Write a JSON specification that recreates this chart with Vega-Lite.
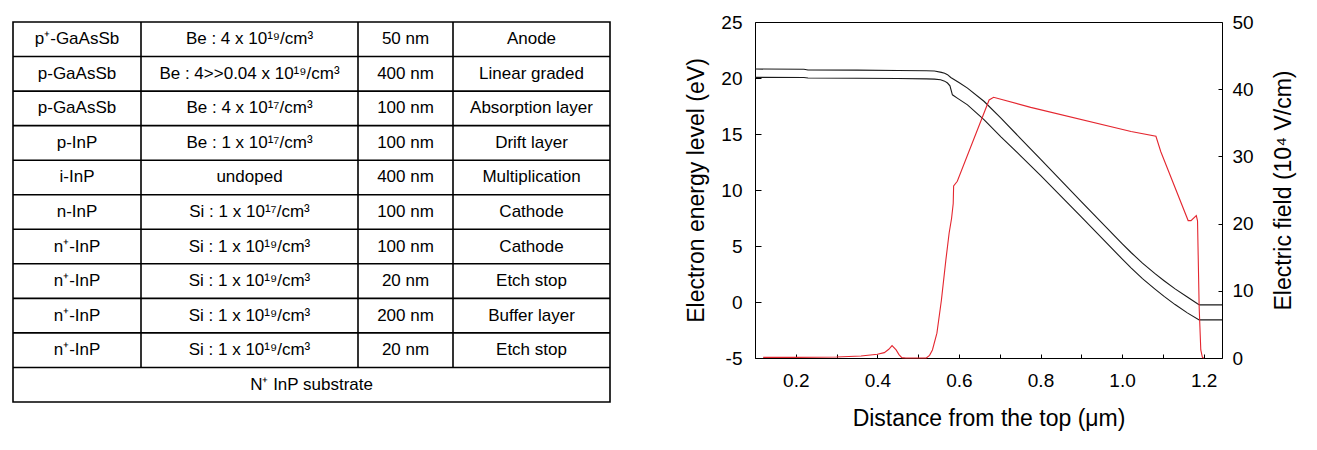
{
  "$schema": "https://vega.github.io/schema/vega-lite/v6.json",
  "background": "white",
  "padding": {"left": 11, "top": 12, "right": 5, "bottom": 5},
  "autosize": {"type": "pad"},
  "bounds": "flush",
  "spacing": 145,
  "config": {
    "font": "Liberation Sans",
    "axis": {
      "domain": false,
      "grid": false,
      "tickColor": "black",
      "tickWidth": 1,
      "labelColor": "black",
      "labelFont": "Liberation Sans",
      "labelFontSize": 19,
      "titleFont": "Liberation Sans",
      "titleFontSize": 23,
      "titleFontWeight": "normal",
      "titleColor": "black",
      "labelFlush": false,
      "labelOverlap": false
    }
  },
  "datasets": {
    "cells": [
      {"row": 0, "col": 0, "t": "p⁺-GaAsSb"},
      {"row": 0, "col": 1, "t": "Be : 4 x 10¹⁹/cm³"},
      {"row": 0, "col": 2, "t": "50 nm"},
      {"row": 0, "col": 3, "t": "Anode"},
      {"row": 1, "col": 0, "t": "p-GaAsSb"},
      {"row": 1, "col": 1, "t": "Be : 4>>0.04 x 10¹⁹/cm³"},
      {"row": 1, "col": 2, "t": "400 nm"},
      {"row": 1, "col": 3, "t": "Linear graded"},
      {"row": 2, "col": 0, "t": "p-GaAsSb"},
      {"row": 2, "col": 1, "t": "Be : 4 x 10¹⁷/cm³"},
      {"row": 2, "col": 2, "t": "100 nm"},
      {"row": 2, "col": 3, "t": "Absorption layer"},
      {"row": 3, "col": 0, "t": "p-InP"},
      {"row": 3, "col": 1, "t": "Be : 1 x 10¹⁷/cm³"},
      {"row": 3, "col": 2, "t": "100 nm"},
      {"row": 3, "col": 3, "t": "Drift layer"},
      {"row": 4, "col": 0, "t": "i-InP"},
      {"row": 4, "col": 1, "t": "undoped"},
      {"row": 4, "col": 2, "t": "400 nm"},
      {"row": 4, "col": 3, "t": "Multiplication"},
      {"row": 5, "col": 0, "t": "n-InP"},
      {"row": 5, "col": 1, "t": "Si : 1 x 10¹⁷/cm³"},
      {"row": 5, "col": 2, "t": "100 nm"},
      {"row": 5, "col": 3, "t": "Cathode"},
      {"row": 6, "col": 0, "t": "n⁺-InP"},
      {"row": 6, "col": 1, "t": "Si : 1 x 10¹⁹/cm³"},
      {"row": 6, "col": 2, "t": "100 nm"},
      {"row": 6, "col": 3, "t": "Cathode"},
      {"row": 7, "col": 0, "t": "n⁺-InP"},
      {"row": 7, "col": 1, "t": "Si : 1 x 10¹⁹/cm³"},
      {"row": 7, "col": 2, "t": "20 nm"},
      {"row": 7, "col": 3, "t": "Etch stop"},
      {"row": 8, "col": 0, "t": "n⁺-InP"},
      {"row": 8, "col": 1, "t": "Si : 1 x 10¹⁹/cm³"},
      {"row": 8, "col": 2, "t": "200 nm"},
      {"row": 8, "col": 3, "t": "Buffer layer"},
      {"row": 9, "col": 0, "t": "n⁺-InP"},
      {"row": 9, "col": 1, "t": "Si : 1 x 10¹⁹/cm³"},
      {"row": 9, "col": 2, "t": "20 nm"},
      {"row": 9, "col": 3, "t": "Etch stop"},
      {"row": 10, "col": 1.286, "t": "N⁺ InP substrate"}
    ],
    "hlines": [
      {"edge": 0.5}, {"edge": 1.5}, {"edge": 2.5}, {"edge": 3.5}, {"edge": 4.5},
      {"edge": 5.5}, {"edge": 6.5}, {"edge": 7.5}, {"edge": 8.5}, {"edge": 9.5}
    ],
    "vlines": [
      {"edge": 0.5}, {"edge": 1.5}, {"edge": 2.5}
    ],
    "bands": [
      {"band": "c", "x": 0.1, "E": 20.8},
      {"band": "c", "x": 0.22, "E": 20.78},
      {"band": "c", "x": 0.23, "E": 20.72},
      {"band": "c", "x": 0.35, "E": 20.7},
      {"band": "c", "x": 0.45, "E": 20.67},
      {"band": "c", "x": 0.52, "E": 20.65},
      {"band": "c", "x": 0.54, "E": 20.62},
      {"band": "c", "x": 0.557, "E": 20.5},
      {"band": "c", "x": 0.565, "E": 20.42},
      {"band": "c", "x": 0.572, "E": 20.3},
      {"band": "c", "x": 0.58, "E": 20.05},
      {"band": "c", "x": 0.6, "E": 19.6},
      {"band": "c", "x": 0.621, "E": 19.1},
      {"band": "c", "x": 0.662, "E": 17.9},
      {"band": "c", "x": 0.703, "E": 16.42},
      {"band": "c", "x": 0.75, "E": 14.64},
      {"band": "c", "x": 0.8, "E": 12.75},
      {"band": "c", "x": 0.85, "E": 10.86},
      {"band": "c", "x": 0.9, "E": 8.97},
      {"band": "c", "x": 0.95, "E": 7.08},
      {"band": "c", "x": 1.0, "E": 5.22},
      {"band": "c", "x": 1.022, "E": 4.42},
      {"band": "c", "x": 1.05, "E": 3.47},
      {"band": "c", "x": 1.08, "E": 2.55},
      {"band": "c", "x": 1.103, "E": 1.9},
      {"band": "c", "x": 1.13, "E": 1.17},
      {"band": "c", "x": 1.16, "E": 0.45},
      {"band": "c", "x": 1.185, "E": -0.15},
      {"band": "c", "x": 1.19, "E": -0.26},
      {"band": "c", "x": 1.245, "E": -0.26},
      {"band": "v", "x": 0.1, "E": 20.06},
      {"band": "v", "x": 0.22, "E": 20.04},
      {"band": "v", "x": 0.23, "E": 20.0},
      {"band": "v", "x": 0.35, "E": 19.98},
      {"band": "v", "x": 0.45, "E": 19.95},
      {"band": "v", "x": 0.52, "E": 19.92},
      {"band": "v", "x": 0.54, "E": 19.9},
      {"band": "v", "x": 0.555, "E": 19.84},
      {"band": "v", "x": 0.565, "E": 19.72},
      {"band": "v", "x": 0.572, "E": 19.55},
      {"band": "v", "x": 0.578, "E": 19.3},
      {"band": "v", "x": 0.584, "E": 18.5},
      {"band": "v", "x": 0.596, "E": 18.2},
      {"band": "v", "x": 0.621, "E": 17.6},
      {"band": "v", "x": 0.662, "E": 16.27},
      {"band": "v", "x": 0.703, "E": 14.75},
      {"band": "v", "x": 0.75, "E": 13.1},
      {"band": "v", "x": 0.8, "E": 11.3},
      {"band": "v", "x": 0.85, "E": 9.45},
      {"band": "v", "x": 0.9, "E": 7.6},
      {"band": "v", "x": 0.95, "E": 5.72},
      {"band": "v", "x": 1.0, "E": 3.85},
      {"band": "v", "x": 1.022, "E": 3.05},
      {"band": "v", "x": 1.05, "E": 2.08},
      {"band": "v", "x": 1.08, "E": 1.17},
      {"band": "v", "x": 1.103, "E": 0.5},
      {"band": "v", "x": 1.13, "E": -0.23},
      {"band": "v", "x": 1.16, "E": -0.97},
      {"band": "v", "x": 1.189, "E": -1.6},
      {"band": "v", "x": 1.245, "E": -1.6}
    ],
    "field": [
      {"x": 0.12, "F": 0.1},
      {"x": 0.2, "F": 0.1},
      {"x": 0.3, "F": 0.15},
      {"x": 0.36, "F": 0.3},
      {"x": 0.4, "F": 0.55},
      {"x": 0.417, "F": 0.8},
      {"x": 0.428, "F": 1.3},
      {"x": 0.436, "F": 1.85},
      {"x": 0.446, "F": 1.2},
      {"x": 0.453, "F": 0.5},
      {"x": 0.46, "F": 0.05},
      {"x": 0.47, "F": 0},
      {"x": 0.52, "F": 0},
      {"x": 0.528, "F": 0.4},
      {"x": 0.535, "F": 1.2},
      {"x": 0.546, "F": 3.7},
      {"x": 0.557, "F": 8.6},
      {"x": 0.568, "F": 14.6},
      {"x": 0.576, "F": 18.6},
      {"x": 0.582, "F": 20.8},
      {"x": 0.586, "F": 23.0},
      {"x": 0.587, "F": 25.6},
      {"x": 0.596, "F": 26.3},
      {"x": 0.674, "F": 38.4},
      {"x": 0.685, "F": 38.8},
      {"x": 0.776, "F": 37.3},
      {"x": 1.022, "F": 33.7},
      {"x": 1.083, "F": 33.0},
      {"x": 1.095, "F": 30.7},
      {"x": 1.162, "F": 20.45},
      {"x": 1.169, "F": 20.45},
      {"x": 1.182, "F": 21.2},
      {"x": 1.185, "F": 20.4},
      {"x": 1.189, "F": 7.6},
      {"x": 1.193, "F": 1.2},
      {"x": 1.197, "F": 0.1},
      {"x": 1.2, "F": 0}
    ]
  },
  "hconcat": [
    {
      "width": 597,
      "height": 380,
      "view": {"stroke": "black", "strokeWidth": 1.6},
      "encoding": {
        "x": {"type": "quantitative", "scale": {"domain": [-0.5, 0.5, 1.5, 2.5, 3.5], "range": [0, 128, 345, 440, 597], "nice": false, "zero": false}, "axis": null},
        "y": {"type": "quantitative", "scale": {"domain": [-0.5, 10.5], "reverse": true, "nice": false, "zero": false}, "axis": null}
      },
      "layer": [
        {
          "data": {"name": "hlines"},
          "mark": {"type": "rule", "color": "black", "strokeWidth": 1.6},
          "encoding": {"y": {"field": "edge", "type": "quantitative"}}
        },
        {
          "data": {"name": "vlines"},
          "mark": {"type": "rule", "color": "black", "strokeWidth": 1.6},
          "encoding": {
            "x": {"field": "edge", "type": "quantitative"},
            "y": {"datum": -0.5, "type": "quantitative"},
            "y2": {"datum": 9.5}
          }
        },
        {
          "data": {"name": "cells"},
          "mark": {"type": "text", "font": "Liberation Sans", "fontSize": 17, "color": "black", "align": "center", "baseline": "middle"},
          "encoding": {
            "x": {"field": "col", "type": "quantitative"},
            "y": {"field": "row", "type": "quantitative"},
            "text": {"field": "t", "type": "nominal"}
          }
        }
      ]
    },
    {
      "width": 467,
      "height": 336,
      "view": {"stroke": "black", "strokeWidth": 1},
      "layer": [
        {
          "data": {"name": "bands"},
          "mark": {"type": "line", "color": "#1a1a1a", "strokeWidth": 1.1},
          "encoding": {
            "x": {
              "field": "x", "type": "quantitative",
              "scale": {"domain": [0.1, 1.245], "nice": false, "zero": false},
              "axis": {
                "title": "Distance from the top (μm)",
                "values": [0.1, 0.2, 0.3, 0.4, 0.5, 0.6, 0.7, 0.8, 0.9, 1.0, 1.1, 1.2],
                "labelExpr": "round(datum.value * 10) % 2 == 0 ? format(datum.value, '.1f') : ''",
                "tickSize": -4,
                "labelPadding": 17,
                "titlePadding": 17
              }
            },
            "y": {
              "field": "E", "type": "quantitative",
              "scale": {"domain": [-5, 25], "nice": false, "zero": false},
              "axis": {
                "orient": "left",
                "title": "Electron energy level (eV)",
                "values": [-5, 0, 5, 10, 15, 20, 25],
                "labelExpr": "datum.value < 0 ? '-' + abs(datum.value) : '' + datum.value",
                "tickSize": -6,
                "labelPadding": 19,
                "titlePadding": 12
              }
            },
            "detail": {"field": "band", "type": "nominal"}
          }
        },
        {
          "data": {"name": "field"},
          "mark": {"type": "line", "color": "#e4262f", "strokeWidth": 1.1},
          "encoding": {
            "x": {"field": "x", "type": "quantitative"},
            "y": {
              "field": "F", "type": "quantitative",
              "scale": {"domain": [0, 50], "nice": false, "zero": false},
              "axis": {
                "orient": "right",
                "title": "Electric field (10⁴ V/cm)",
                "titleAngle": 270,
                "titleBaseline": "top",
                "values": [0, 10, 20, 30, 40, 50],
                "tickSize": -4,
                "labelPadding": 14,
                "titlePadding": 19
              }
            }
          }
        }
      ],
      "resolve": {"scale": {"y": "independent"}}
    }
  ]
}
